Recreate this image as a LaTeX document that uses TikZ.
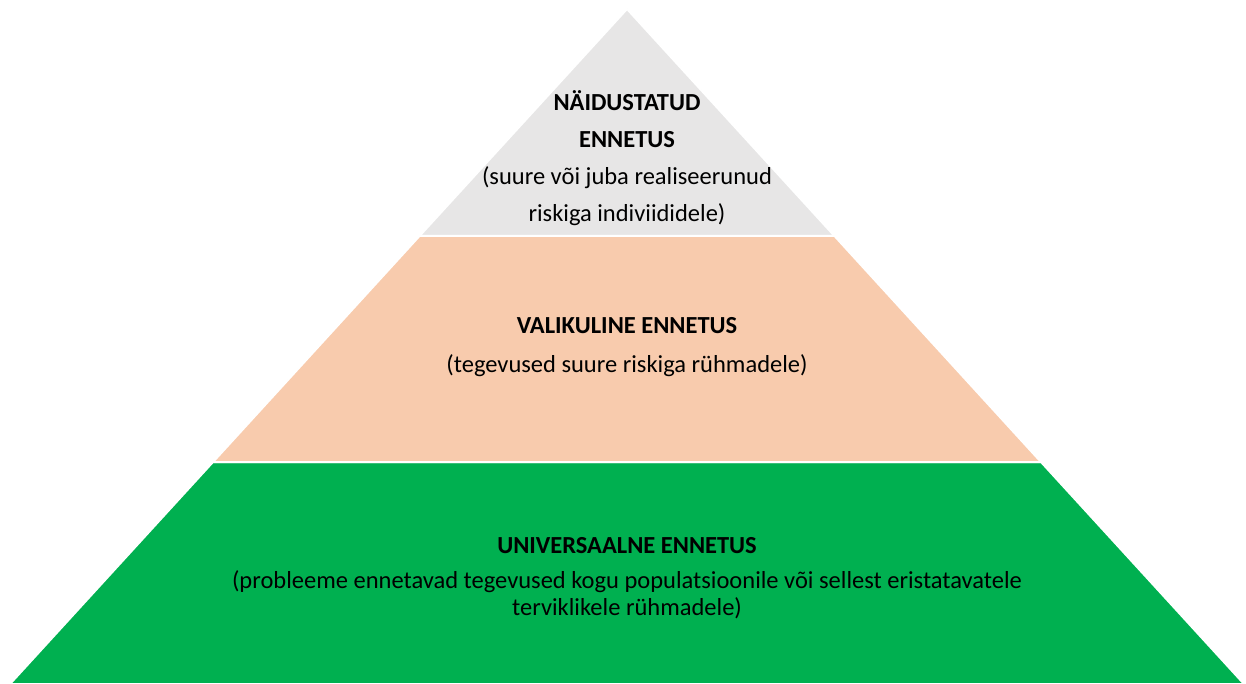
\documentclass[tikz,border=0pt]{standalone}
\usepackage{fontspec}
\setmainfont{Carlito}
\definecolor{tiergray}{HTML}{E7E6E6}
\definecolor{tierpeach}{HTML}{F8CBAD}
\definecolor{tiergreen}{HTML}{00B050}
\begin{document}
\begin{tikzpicture}[x=1pt,y=-1pt,
  tier/.style={draw=white,line width=2pt,line join=miter},
  lbl/.style={align=center,inner sep=0pt,text=black,font=\fontsize{24.5}{37}\selectfont}]
\useasboundingbox (0,0) rectangle (1246,684);
\fill[white] (0,0) rectangle (1246,684);
% tiers
\path[tier,fill=tiergreen] (213,462) -- (1041,462) -- (1244,684) -- (10,684) -- cycle;
\path[tier,fill=tierpeach] (419.5,236) -- (834.5,236) -- (1041,462) -- (213,462) -- cycle;
\path[tier,fill=tiergray] (627,9) -- (834.5,236) -- (419.5,236) -- cycle;
% labels
\node[lbl] (top) at (627,158.5) {\textbf{NÄIDUSTATUD}\\\textbf{ENNETUS}\\(suure või juba realiseerunud\\riskiga indiviididele)};
\node[lbl,font=\fontsize{24.5}{39}\selectfont] (mid) at (627,347.5) {\textbf{VALIKULINE ENNETUS}\\(tegevused suure riskiga rühmadele)};
\node[lbl,font=\fontsize{24.5}{27}\selectfont] (bot) at (627,578) {\textbf{UNIVERSAALNE ENNETUS}\\[8pt](probleeme ennetavad tegevused kogu populatsioonile või sellest eristatavatele\\terviklikele rühmadele)};
\end{tikzpicture}
\end{document}
